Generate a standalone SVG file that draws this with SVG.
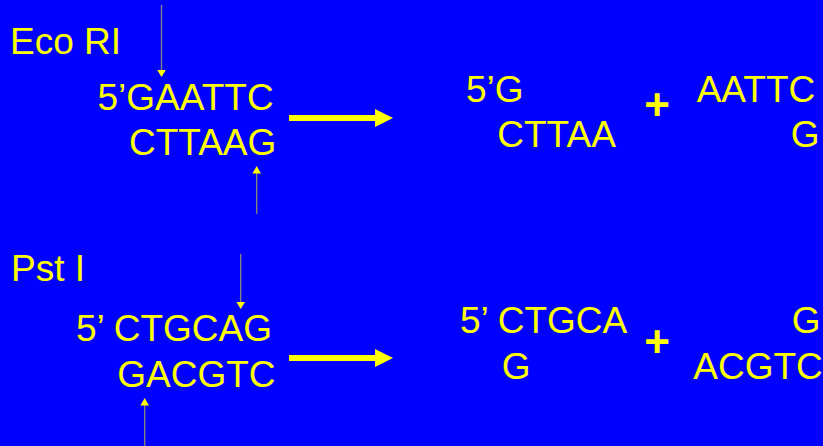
<svg xmlns="http://www.w3.org/2000/svg" width="823" height="446" viewBox="0 0 823 446">
  <style>
    .t { font-family: "Liberation Sans", Arial, sans-serif; font-size: 37px; fill: #FFFF00; }
    .plus { font-family: "Liberation Sans", Arial, sans-serif; font-size: 44px; font-weight: bold; fill: #FFFF00; text-anchor: middle; }
    .cut { stroke: #808080; stroke-width: 1.4; }
    .cuthead { fill: #FFFF00; }
    .big { fill: #FFFF00; }
  </style>
  <rect x="0" y="0" width="823" height="446" fill="#0000FF"/>

  <!-- EcoRI -->
  <g id="ecori-label"><text class="t" x="10" y="54">Eco RI</text></g>
  <g id="ecori-site">
    <text class="t" x="97.5" y="110">5’GAATTC</text>
    <text class="t" x="129" y="155">CTTAAG</text>
  </g>
  <g id="ecori-left-fragment">
    <text class="t" x="466" y="101.5">5’G</text>
    <text class="t" x="497.3" y="147.3">CTTAA</text>
  </g>
  <g id="ecori-plus"><text class="plus" x="657" y="120">+</text></g>
  <g id="ecori-right-fragment">
    <text class="t" x="696.7" y="101.5">AATTC</text>
    <text class="t" x="790.7" y="147.3">G</text>
  </g>

  <!-- PstI -->
  <g id="psti-label"><text class="t" x="11" y="280.7">Pst I</text></g>
  <g id="psti-site">
    <text class="t" x="76" y="341">5’ CTGCAG</text>
    <text class="t" x="117.3" y="386.7">GACGTC</text>
  </g>
  <g id="psti-left-fragment">
    <text class="t" x="460" y="333.3">5’ CTGCA</text>
    <text class="t" x="501.7" y="379.3">G</text>
  </g>
  <g id="psti-plus"><text class="plus" x="657" y="357">+</text></g>
  <g id="psti-right-fragment">
    <text class="t" x="791.7" y="333.3">G</text>
    <text class="t" x="693.3" y="379.3">ACGTC</text>
  </g>

  <g id="connectors">
    <!-- cut-site markers -->
    <line class="cut" x1="161.5" y1="5" x2="161.5" y2="71"/>
    <polygon class="cuthead" points="157.2,70 165.8,70 161.5,77"/>
    <line class="cut" x1="256.7" y1="172" x2="256.7" y2="214"/>
    <polygon class="cuthead" points="252.4,173.5 261,173.5 256.7,166"/>
    <line class="cut" x1="240.7" y1="254" x2="240.7" y2="303"/>
    <polygon class="cuthead" points="236.4,302 245,302 240.7,309"/>
    <line class="cut" x1="144.7" y1="404" x2="144.7" y2="446"/>
    <polygon class="cuthead" points="140.4,405.5 149,405.5 144.7,398"/>

    <!-- reaction arrows -->
    <rect class="big" x="289" y="115" width="87" height="6"/>
    <polygon class="big" points="375,109 393,118 375,127"/>
    <rect class="big" x="289" y="355" width="87" height="6"/>
    <polygon class="big" points="375,349 393,358 375,367"/>
  </g>
</svg>
